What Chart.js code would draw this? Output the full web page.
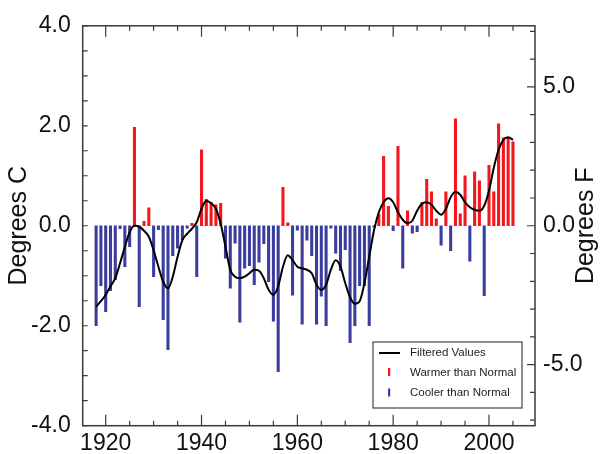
<!DOCTYPE html>
<html><head><meta charset="utf-8">
<script src="https://cdn.jsdelivr.net/npm/chart.js@4/dist/chart.umd.min.js"></script>
<style>html,body{margin:0;padding:0;background:#fff}canvas{display:block}</style>
</head><body>
<canvas id="c" width="605" height="454"></canvas>
<script>
const years = [1918,1919,1920,1921,1922,1923,1924,1925,1926,1927,1928,1929,1930,1931,1932,1933,1934,1935,1936,1937,1938,1939,1940,1941,1942,1943,1944,1945,1946,1947,1948,1949,1950,1951,1952,1953,1954,1955,1956,1957,1958,1959,1960,1961,1962,1963,1964,1965,1966,1967,1968,1969,1970,1971,1972,1973,1974,1975,1976,1977,1978,1979,1980,1981,1982,1983,1984,1985,1986,1987,1988,1989,1990,1991,1992,1993,1994,1995,1996,1997,1998,1999,2000,2001,2002,2003,2004,2005];
const anomalyC = [-2.0,-1.2,-1.72,-1.3,-1.08,-0.06,-0.82,-0.42,1.97,-1.62,0.09,0.36,-1.02,-0.08,-1.88,-2.48,-0.6,-0.45,-0.28,-0.05,0.05,-1.02,1.52,0.53,0.47,0.42,0.45,-0.65,-1.25,-0.35,-1.93,-0.85,-0.8,-1.18,-0.73,-0.36,-1.12,-1.91,-2.92,0.77,0.06,-1.39,-0.09,-1.97,-0.29,-0.6,-1.97,-1.41,-2.0,-0.05,-0.55,-0.9,-0.48,-2.34,-2.0,-1.2,-1.2,-2.0,-0.03,0.24,1.39,0.39,-0.1,1.59,-0.85,0.3,-0.15,-0.12,0.47,0.93,0.68,0.14,-0.39,0.68,-0.5,2.14,0.24,1.0,-0.71,1.08,0.9,-1.4,1.21,0.68,2.04,1.76,1.77,1.68];
const filteredC = [-1.62,-1.51,-1.38,-1.21,-1.05,-0.75,-0.42,-0.13,0.0,-0.02,-0.1,-0.22,-0.49,-0.82,-1.12,-1.25,-1.02,-0.62,-0.29,-0.16,-0.06,0.07,0.34,0.5,0.45,0.34,0.04,-0.42,-0.88,-1.02,-1.05,-1.02,-0.95,-0.88,-0.9,-1.05,-1.28,-1.38,-1.21,-0.82,-0.59,-0.69,-0.82,-0.85,-0.88,-0.95,-1.18,-1.28,-1.18,-0.88,-0.69,-0.82,-1.15,-1.43,-1.56,-1.51,-1.15,-0.62,-0.09,0.27,0.47,0.55,0.47,0.27,0.12,0.05,0.1,0.3,0.44,0.47,0.42,0.3,0.22,0.34,0.57,0.68,0.62,0.47,0.37,0.32,0.3,0.4,0.7,1.16,1.52,1.72,1.77,1.72];
const xTickYears = [1920,1940,1960,1980,2000];
const yTicksC = [-4,-2,0,2,4];
const yTicksF = [-5,0,5];
const legendLabels = ['Filtered Values','Warmer than Normal','Cooler than Normal'];
const axisTitles = ['Degrees C','Degrees F'];

const RED = '#f4161c', BLUE = '#3a3c9e', AXIS = '#3a3a3a';
const warm = years.map((y,i)=>({x:y, y: anomalyC[i] > 0 ? anomalyC[i] : null}));
const cool = years.map((y,i)=>({x:y, y: anomalyC[i] < 0 ? anomalyC[i] : null}));
const filt = years.map((y,i)=>({x:y, y: filteredC[i]}));

const FONT = '"Liberation Sans", Arial, Helvetica, sans-serif';

const framePlugin = {
  id: 'frame',
  afterDraw(chart) {
    const {ctx, chartArea: a, scales} = chart;
    const x = scales.x, y = scales.y, y2 = scales.y2;
    ctx.save();
    ctx.strokeStyle = AXIS; ctx.lineWidth = 1.5;
    ctx.strokeRect(a.left, a.top, a.right - a.left, a.bottom - a.top);
    ctx.lineWidth = 1.2;
    ctx.beginPath();
    for (let yr = 1920; yr <= 2005; yr += 5) {
      const px = x.getPixelForValue(yr);
      const len = (yr % 20 === 0) ? 11 : 5;
      ctx.moveTo(px, a.bottom); ctx.lineTo(px, a.bottom - len);
      ctx.moveTo(px, a.top); ctx.lineTo(px, a.top + len);
    }
    for (let v = -4; v <= 4.001; v += 0.5) {
      const py = y.getPixelForValue(v);
      ctx.moveTo(a.left, py); ctx.lineTo(a.left + 5, py);
    }
    for (let f = -7; f <= 7; f += 1) {
      const py = y2.getPixelForValue(f);
      const len = (f % 5 === 0) ? 8 : 5;
      ctx.moveTo(a.right, py); ctx.lineTo(a.right - len, py);
    }
    ctx.stroke();

    // right axis title (reads bottom-to-top like the left one)
    ctx.save();
    ctx.fillStyle = '#111';
    ctx.font = '25px ' + FONT;
    ctx.textAlign = 'center'; ctx.textBaseline = 'middle';
    ctx.translate(586, (a.top + a.bottom) / 2);
    ctx.rotate(-Math.PI / 2);
    ctx.fillText(axisTitles[1], 0, 0);
    ctx.restore();

    // legend
    const bx = 373, by = 342, bw = 149, bh = 66;
    ctx.lineWidth = 1.2; ctx.strokeStyle = '#444';
    ctx.fillStyle = '#fff';
    ctx.fillRect(bx, by, bw, bh);
    ctx.strokeRect(bx, by, bw, bh);
    ctx.strokeStyle = '#000'; ctx.lineWidth = 2;
    ctx.beginPath(); ctx.moveTo(379, 353); ctx.lineTo(400, 353); ctx.stroke();
    ctx.fillStyle = RED; ctx.fillRect(388, 368, 2.2, 8);
    ctx.fillStyle = BLUE; ctx.fillRect(388, 388.5, 2.2, 8);
    ctx.fillStyle = '#222';
    ctx.font = '11.5px ' + FONT;
    ctx.textBaseline = 'middle';
    ctx.fillText(legendLabels[0], 410, 353);
    ctx.fillText(legendLabels[1], 410, 372.5);
    ctx.fillText(legendLabels[2], 410, 392.5);
    ctx.restore();
  }
};

new Chart(document.getElementById('c'), {
  type: 'bar',
  data: {
    datasets: [
      { type: 'line', label: legendLabels[0], data: filt, borderColor: '#000', borderWidth: 2, pointRadius: 0, cubicInterpolationMode: 'monotone', fill: false, yAxisID: 'y', order: 0 },
      { label: legendLabels[1], data: warm, backgroundColor: RED, barThickness: 2.4, grouped: false, yAxisID: 'y', order: 1 },
      { label: legendLabels[2], data: cool, backgroundColor: BLUE, barThickness: 2.4, grouped: false, yAxisID: 'y', order: 1 }
    ]
  },
  options: {
    responsive: false, animation: false,
    layout: { padding: { top: 21.7, left: 0, right: 0, bottom: 0 } },
    plugins: { legend: { display: false }, tooltip: { enabled: false } },
    scales: {
      x: {
        type: 'linear', min: 1915.2, max: 2009.6, offset: false,
        grid: { display: false, drawTicks: false, offset: false }, border: { display: false },
        afterBuildTicks: s => { s.ticks = xTickYears.map(v => ({value: v})); },
        afterFit: s => { s.height = 28.3; },
        ticks: { color: '#111', padding: 4, maxRotation: 0, font: { family: FONT, size: 23 }, callback: v => String(v) }
      },
      y: {
        position: 'left', min: -4, max: 4,
        grid: { display: false, drawTicks: false }, border: { display: false },
        afterBuildTicks: s => { s.ticks = yTicksC.map(v => ({value: v})); },
        afterFit: s => { s.width = 82.7; },
        ticks: { color: '#111', padding: 12, font: { family: FONT, size: 23 }, callback: v => Number(v).toFixed(1) },
        title: { display: true, text: axisTitles[0], color: '#111', padding: { top: 4, bottom: 0 }, font: { family: FONT, size: 25 } }
      },
      y2: {
        position: 'right', min: -7.2, max: 7.2,
        grid: { display: false, drawTicks: false }, border: { display: false },
        afterBuildTicks: s => { s.ticks = yTicksF.map(v => ({value: v})); },
        afterFit: s => { s.width = 70; },
        ticks: { color: '#111', padding: 8, font: { family: FONT, size: 23 }, callback: v => Number(v).toFixed(1) }
      }
    }
  },
  plugins: [framePlugin]
});
</script>
</body></html>
